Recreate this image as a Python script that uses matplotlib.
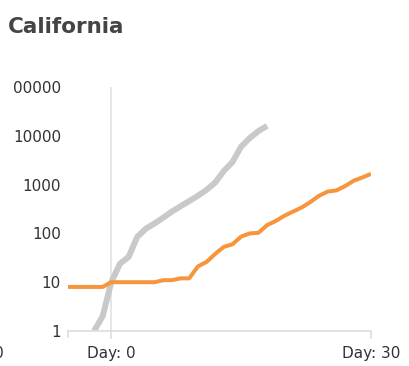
import matplotlib
matplotlib.use('agg')
import matplotlib.pyplot as plt

# days since 10th case
ca_days = list(range(-5, 31))
ca_cases = [8, 8, 8, 8, 8, 10, 10, 10, 10, 10, 10, 11, 11, 12, 12, 21, 26, 38, 53, 60,
            86, 100, 103, 148, 180, 230, 280, 340, 440, 590, 720, 760, 930, 1200, 1400, 1660]

ref_days = list(range(-2, 19))
ref_cases = [1, 2, 10, 24, 33, 85, 125, 160, 210, 280, 360, 460, 590, 780, 1100, 1900,
             2900, 6000, 9000, 12500, 16000]

y_ticks = [1, 10, 100, 1000, 10000, 100000]
y_labels = ['1', '10', '100', '1000', '10000', '00000']
x_ticks = [0, 30]
x_labels = ['Day: 0', 'Day: 30']

W, H = 409, 366
fig = plt.figure(figsize=(W / 100, H / 100), dpi=100)
ax = fig.add_axes([68 / W, (H - 331) / H, (371 - 68) / W, (331 - 87) / H])

ax.plot(ref_days, ref_cases, color='#c9c9c9', lw=4.3, solid_capstyle='butt', zorder=2)
ax.plot(ca_days, ca_cases, color='#f7953d', lw=2.9, solid_capstyle='butt', zorder=3)

ax.set_yscale('log')
ax.set_xlim(-5, 30)
ax.set_ylim(1, 100000)
ax.minorticks_off()

ax.axvline(0, color='#e2e2e2', lw=1.2, zorder=1)
for s in ['top', 'right', 'left']:
    ax.spines[s].set_visible(False)
ax.spines['bottom'].set_color('#dddddd')
ax.spines['bottom'].set_linewidth(1.2)

ax.set_yticks(y_ticks)
ax.set_yticklabels(y_labels)
ax.tick_params(axis='y', length=0, pad=5, labelsize=11, labelcolor='#333333')
ax.set_xticks(x_ticks)
ax.set_xticklabels(x_labels)
ax.tick_params(axis='x', length=6, width=1.2, color='#dddddd', pad=5,
               labelsize=11, labelcolor='#333333')
# outer tick at the left end of the axis
ax.plot([-5, -5], [0, -6 / 244], transform=ax.get_xaxis_transform(), color='#dddddd', lw=1.2, clip_on=False)
# neighbouring label, mostly cut off by the left edge
ax.annotate('Day: -20', xy=(-12.4, 0), xycoords=('data', 'axes fraction'), xytext=(0, -11),
            textcoords='offset points', ha='right', va='top', fontsize=11, color='#333333',
            annotation_clip=False)

fig.text(8 / W, 1 - 27 / H, 'California', fontsize=15.5, fontweight='bold', color='#444444',
         ha='left', va='center')

fig.savefig('out.png', dpi=100)
